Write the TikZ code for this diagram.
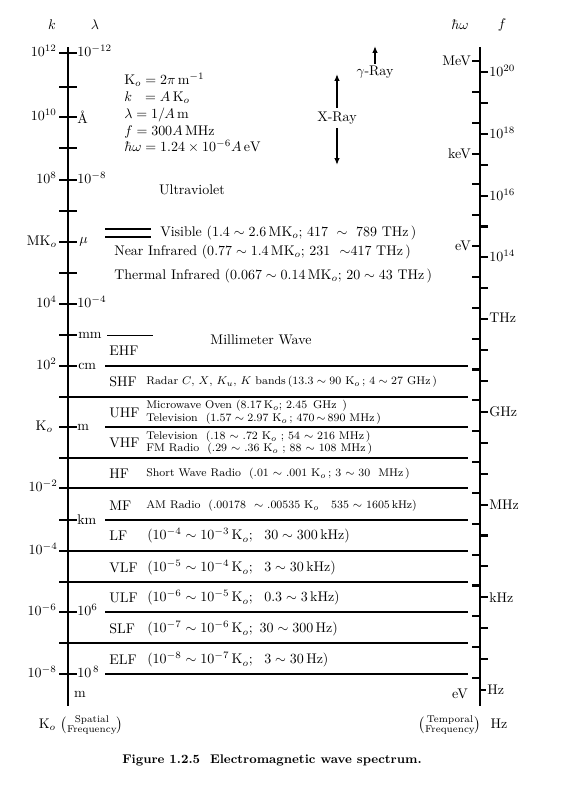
\documentclass[tikz,border=0pt]{standalone}
\usepackage{amsmath}
\usetikzlibrary{arrows.meta}
\begin{document}
\begin{tikzpicture}[x=0.715pt,y=-0.715pt,
  every node/.style={inner sep=0pt},
  axis/.style={line width=2pt},
  tick/.style={line width=1.5pt},
  band/.style={line width=1.4pt},
  thinband/.style={line width=0.6pt},
  arr/.style={line width=1.2pt,-{Latex[length=5pt,width=4pt]}},
  kl/.style={anchor=east},
  ll/.style={anchor=west},
  small/.style={font=\footnotesize},
  bname/.style={anchor=west}]
\useasboundingbox (0,0) rectangle (580,787);

% headers
\node (hk) at (52,25) {$k$};
\node (hl) at (95,25) {$\lambda$};
\node (hw) at (460,25) {$\hbar\omega$};
\node (hf) at (502,25) {$f$};

% left axis
\coordinate (La) at (68,47);
\coordinate (Lb) at (68,706);
\draw[axis] (La) -- (Lb);
\foreach \y in {53,87,117,148,180,211,242,273,304,335,366,397,427,458,488,520,551,582,612,643,674}
  \draw[tick] (59,\y) -- (77,\y);

% right axis
\coordinate (Ra) at (480,47);
\coordinate (Rb) at (480,706);
\draw[axis] (Ra) -- (Rb);
\foreach \j in {0,...,20}
  \draw[tick] (472,{61+30.85*\j}) -- (480,{61+30.85*\j});
\foreach \j in {0,...,19}
  \draw[tick] (480,{72+30.9*\j}) -- (488,{72+30.9*\j});
\draw[line width=0.8pt] (480,690) -- (486,690);

% left k labels
\node[kl] (k12) at (57,51) {$10^{12}$};
\node[kl] (k10) at (57,115) {$10^{10}$};
\node[kl] (k8) at (57,178) {$10^{8}$};
\node[kl] (kM) at (57,242) {$\mathrm{MK}_o$};
\node[kl] (k4) at (57,302) {$10^{4}$};
\node[kl] (k2) at (57,364) {$10^{2}$};
\node[kl] (k0) at (53,427) {$\mathrm{K}_o$};
\node[kl] (km2) at (58,486) {$10^{-2}$};
\node[kl] (km4) at (58,549) {$10^{-4}$};
\node[kl] (km6) at (57,610) {$10^{-6}$};
\node[kl] (km8) at (57,672) {$10^{-8}$};

% right lambda labels
\node[ll] (l12) at (77,51) {$10^{-12}$};
\node[ll] (lA) at (77,117) {\AA};
\node[ll] (l8) at (77,178) {$10^{-8}$};
\node[ll] (lmu) at (79,242) {$\mu$};
\node[ll] (l4) at (77,302) {$10^{-4}$};
\node[ll] (lmm) at (78,335) {mm};
\node[ll] (lcm) at (78,366) {cm};
\node[ll] (lm) at (77,427) {m};
\node[ll] (lkm) at (77,520) {km};
\node[ll] (l6) at (77,610) {$10^{6}$};
\node[ll] (l8b) at (77,672) {$10^{\,8}$};
\node (lmb) at (80,694) {m};

% right eV labels
\node[kl] (eMeV) at (471,61) {MeV};
\node[kl] (ekeV) at (471,154) {keV};
\node[kl] (eeV) at (471,246) {eV};
\node (eeVb) at (460,694) {eV};

% right f labels
\node[ll] (f20) at (489,71) {$10^{20}$};
\node[ll] (f18) at (489,133) {$10^{18}$};
\node[ll] (f16) at (489,195) {$10^{16}$};
\node[ll] (f14) at (489,256) {$10^{14}$};
\node[ll] (fTHz) at (489,318) {THz};
\node[ll] (fGHz) at (489,412) {GHz};
\node[ll] (fMHz) at (489,505) {MHz};
\node[ll] (fkHz) at (489,598) {kHz};
\node[ll] (fHz) at (487,690) {Hz};

% formulas
\node[anchor=north west,align=left] (defs) at (124,73) {%
$\mathrm{K}_o=2\pi\,\mathrm{m}^{-1}$\\
$k\ \ =A\,\mathrm{K}_o$\\
$\lambda=1/A\,\mathrm{m}$\\
$f=300A\,\mathrm{MHz}$\\
$\hbar\omega=1.24\times10^{-6}A\,\mathrm{eV}$};

% gamma / X-ray
\node (gam) at (375,72) {$\gamma$-Ray};
\coordinate (gtop) at (375,46);
\draw[arr] (gam.north) ++(0,-2) -- (gtop);
\node (xray) at (337,118) {X-Ray};
\coordinate (xtop) at (337,74);
\coordinate (xbot) at (337,165);
\draw[arr] (xray.north) ++(0,-4) -- (xtop);
\draw[arr] (xray.south) ++(0,4) -- (xbot);

\node (uv) at (192,190) {Ultraviolet};

% visible double line
\coordinate (v1a) at (105,229); \coordinate (v1b) at (151,229);
\coordinate (v2a) at (105,237); \coordinate (v2b) at (151,237);
\draw[line width=1.6pt] (v1a) -- (v1b);
\draw[line width=1.6pt] (v2a) -- (v2b);
\node[anchor=west] (vis) at (160,233) {Visible $(1.4\sim2.6\,\mathrm{MK}_o$; $417\ \sim\ 789$ THz\,)};
\node[anchor=west] (nir) at (114,252) {Near Infrared $(0.77\sim1.4\,\mathrm{MK}_o$; $231\ \ {\sim}417$ THz\,)};
\node[anchor=west] (tir) at (114,276) {Thermal Infrared $(0.067\sim0.14\,\mathrm{MK}_o$; $20\sim43$ THz\,)};

% band separator lines
\draw[thinband] (107,335) -- (153,335);
\foreach \y/\xs in {366/105,397/59,427/105,458/59,488/59,520/105,551/59,582/59,612/105,643/59,674/105}
  \draw[band] (\xs,\y) -- (468,\y);

\node (mmw) at (261,340) {Millimeter Wave};

% band names
\node[bname] (ehf) at (109,351) {EHF};
\node[bname] (shf) at (109,382) {SHF};
\node[bname] (uhf) at (109,413) {UHF};
\node[bname] (vhf) at (109,443) {VHF};
\node[bname] (hf) at (109,474) {HF};
\node[bname] (mf) at (109,506) {MF};
\node[bname] (lf) at (109,536) {LF};
\node[bname] (vlf) at (109,568) {VLF};
\node[bname] (ulf) at (109,598) {ULF};
\node[bname] (slf) at (109,629) {SLF};
\node[bname] (elf) at (109,660) {ELF};

% descriptions
\node[small,anchor=west] (dshf) at (146,382) {Radar $C$, $X$, $K_u$, $K$ bands\,($13.3\sim90$ K$_o$\,; $4\sim27$ GHz\,)};
\node[small,anchor=west] (duhf1) at (146,406) {Microwave Oven ($8.17\,$K$_o$; 2.45\, GHz\, )};
\node[small,anchor=west] (duhf2) at (146,419) {Television\ \ ($1.57\sim2.97$ K$_o$\,; $470\,{\sim}\,890$ MHz\,)};
\node[small,anchor=west] (dvhf1) at (146,437) {Television\ \ (.18 $\sim$ .72 K$_o$\ ; 54 $\sim$ 216\ MHz\,)};
\node[small,anchor=west] (dvhf2) at (146,449) {FM Radio\ \ (.29 $\sim$ .36 K$_o$\ ; 88 $\sim$ 108\ MHz\,)};
\node[small,anchor=west] (dhf) at (146,474) {Short Wave Radio\ \ (.01 $\sim$ .001 K$_o$\,; 3 $\sim$ 30\ \ MHz\,)};
\node[small,anchor=west] (dmf) at (146,506) {AM Radio\ \ (.00178\ \ $\sim$\ .00535 K$_o$\ \ \ 535 $\sim$ 1605\,kHz)};
\node[anchor=west] (dlf) at (147,536) {$(10^{-4}\sim10^{-3}\,\mathrm{K}_o;\ \ 30\sim300\,\mathrm{kHz})$};
\node[anchor=west] (dvlf) at (147,568) {$(10^{-5}\sim10^{-4}\,\mathrm{K}_o;\ \ 3\sim30\,\mathrm{kHz})$};
\node[anchor=west] (dulf) at (147,598) {$(10^{-6}\sim10^{-5}\,\mathrm{K}_o;\ \ 0.3\sim3\,\mathrm{kHz})$};
\node[anchor=west] (dslf) at (147,629) {$(10^{-7}\sim10^{-6}\,\mathrm{K}_o;\ 30\sim300\,\mathrm{Hz})$};
\node[anchor=west] (delf) at (147,660) {$(10^{-8}\sim10^{-7}\,\mathrm{K}_o;\ \ 3\sim30\,\mathrm{Hz})$};

% bottom labels
\node (bl) at (81,725) {$\mathrm{K}_o\ \bigl(\substack{\text{Spatial}\\ \text{Frequency}}\bigr)$};
\node (br) at (463,725) {$\bigl(\substack{\text{Temporal}\\ \text{Frequency}}\bigr)\ \ \mathrm{Hz}$};

% caption
\node[font=\small\bfseries] (cap) at (272,760) {Figure 1.2.5\ \ Electromagnetic wave spectrum.};
\end{tikzpicture}
\end{document}
